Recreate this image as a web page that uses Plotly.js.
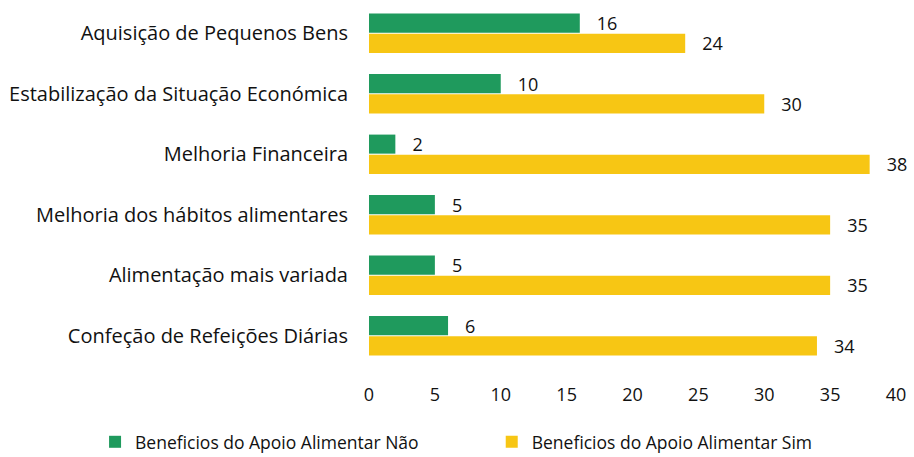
<!DOCTYPE html>
<html><head><meta charset="utf-8">
<script src="https://cdn.plot.ly/plotly-3.0.1.min.js"></script>
<style>html,body{margin:0;padding:0;background:#fff}#c{width:914px;height:457px}</style>
</head><body><div id="c"></div>
<script>
const categories = ["Aquisição de Pequenos Bens","Estabilização da Situação Económica","Melhoria Financeira","Melhoria dos hábitos alimentares","Alimentação mais variada","Confeção de Refeições Diárias"];
const naoValues = [16,10,2,5,5,6];
const simValues = [24,30,38,35,35,34];
const seriesNames = ["Beneficios do Apoio Alimentar Não","Beneficios do Apoio Alimentar Sim"];
const xTicks = [0,5,10,15,20,25,30,35,40];

const font = {family: "Open Sans, Noto Sans, sans-serif", size: 18, color: "#111"};
const pad = "\u00a0\u00a0\u00a0";
const traces = [
  {type:"bar", orientation:"h", name:seriesNames[0], y:categories, x:naoValues, legend:"legend",
   marker:{color:"#1f9a5d"}, text:naoValues.map(v => pad + v), textposition:"outside",
   constraintext:"none", textfont:{...font, size:18}, cliponaxis:false},
  {type:"bar", orientation:"h", name:seriesNames[1], y:categories, x:simValues, legend:"legend2",
   marker:{color:"#f7c614"}, text:simValues.map(v => pad + v), textposition:"outside",
   constraintext:"none", textfont:{...font, size:18}, cliponaxis:false}
];
const legendBase = {orientation:"h", xref:"container", yref:"container", y:0.033, yanchor:"middle",
          xanchor:"left", font:{...font, size:17.5}, itemwidth:30, bgcolor:"rgba(0,0,0,0)"};
const layout = {
  width:914, height:457,
  margin:{l:369, r:18, t:3, b:91},
  barmode:"group", bargap:0.33, bargroupgap:0.06,
  font: font,
  paper_bgcolor:"#fff", plot_bgcolor:"#fff",
  showlegend:true,
  legend:{...legendBase, x:0.104},
  legend2:{...legendBase, x:0.538},
  xaxis:{range:[0,40], tickvals:xTicks, ticktext:xTicks.map(String), showgrid:false, zeroline:false,
         showline:false, ticks:"", tickfont:{...font, size:18}, ticklabelstandoff:16, fixedrange:true},
  yaxis:{autorange:"reversed", showgrid:false, zeroline:false, showline:false, ticks:"",
         tickfont:{...font, size:20}, ticklabelstandoff:20, fixedrange:true}
};
Plotly.newPlot("c", traces, layout, {displayModeBar:false, staticPlot:true});
</script></body></html>
